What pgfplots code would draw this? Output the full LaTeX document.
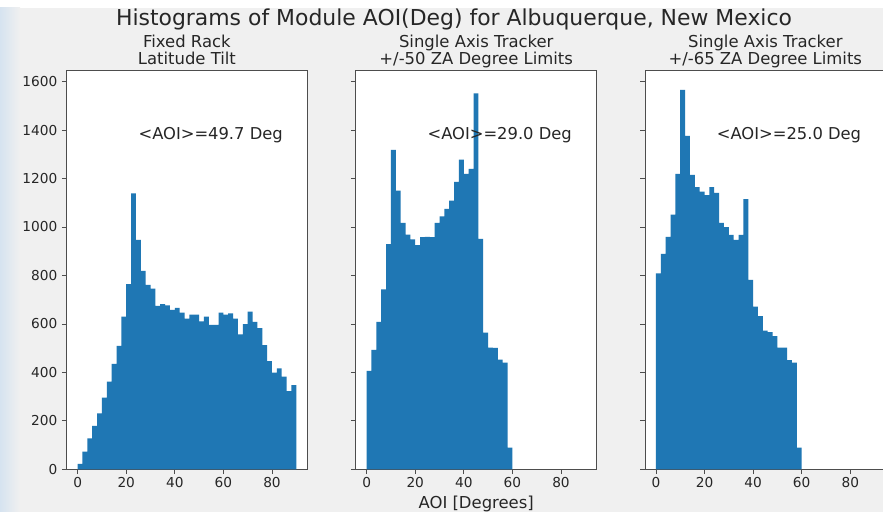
\documentclass[border=0pt]{standalone}
\usepackage{pgfplots}
\pgfplotsset{compat=1.18}
\usepackage{fontspec}
\setmainfont{DejaVu Sans}
\definecolor{c0}{HTML}{1F77B4}
\definecolor{figbg}{HTML}{F0F0F0}
\definecolor{spine}{HTML}{4D4D4D}
\pgfplotsset{
  histax/.style={
    scale only axis, width=240.5bp, height=399.3bp,
    xmin=-4.5, xmax=94.5, ymin=0, ymax=1648,
    xtick={0,20,40,60,80}, ytick={0,200,400,600,800,1000,1200,1400,1600},
    tick align=outside, tick pos=left, major tick length=4.8bp,
    every tick/.style={spine, line width=0.8bp},
    axis line style={spine, line width=0.9bp},
    axis background/.style={fill=white},
    /pgf/number format/assume math mode=true,
    /pgf/number format/1000 sep={},
    ticklabel style={font=\fontsize{13.75}{16}\selectfont, text=black!85},
    xticklabel style={inner sep=0pt, yshift=-3.4bp},
    yticklabel style={inner sep=0pt, xshift=-4.4bp},
    clip=true,
  },
}
\tikzset{annot/.style={font=\fontsize{16.4}{19}\selectfont, text=black!85, anchor=base west, inner sep=0pt}}
\begin{document}
\begin{tikzpicture}
\useasboundingbox (0bp,0bp) rectangle (883bp,512bp);
\fill[figbg] (0bp,0bp) rectangle (883bp,512bp);
\fill[white] (0bp,504bp) rectangle (883bp,512bp);
\shade[left color={rgb,255:red,214;green,227;blue,240}, right color=figbg] (0bp,0bp) rectangle (20bp,504bp);

% Panel 1: Fixed rack, latitude tilt
\begin{axis}[histax, at={(66.7bp,42.7bp)}, anchor=south west]
\addplot[const plot, fill=c0, draw=none] coordinates {
(0,22) (2,73) (4,128) (6,179) (8,231) (10,296) (12,362) (14,435) (16,509) (18,630)
(20,764) (22,1139) (24,947) (26,819) (28,761) (30,746) (32,674) (34,682) (36,677) (38,658)
(40,666) (42,647) (44,622) (46,638) (48,638) (50,611) (52,630) (54,596) (56,596) (58,647)
(60,638) (62,644) (64,622) (66,557) (68,599) (70,651) (72,608) (74,583) (76,513) (78,446)
(80,399) (82,417) (84,383) (86,323) (88,347) (90,347)
} \closedcycle;
\node[annot] at (axis cs:25,1362) {<AOI>=49.7 Deg};
\end{axis}

% Panel 2: Single axis tracker +/-50
\begin{axis}[histax, at={(355.7bp,42.7bp)}, anchor=south west, yticklabels={}]
\addplot[const plot, fill=c0, draw=none] coordinates {
(0,406) (2,493) (4,608) (6,743) (8,929) (10,1318) (12,1150) (14,1017) (16,969) (18,949)
(20,925) (22,958) (24,959) (26,958) (28,1017) (30,1044) (32,1075) (34,1109) (36,1186) (38,1278)
(40,1219) (42,1240) (44,1552) (46,951) (48,564) (50,502) (52,501) (54,453) (56,440) (58,89)
(60,89)
} \closedcycle;
\node[annot] at (axis cs:25,1362) {<AOI>=29.0 Deg};
\end{axis}

% Panel 3: Single axis tracker +/-65
\begin{axis}[histax, at={(645bp,42.7bp)}, anchor=south west, yticklabels={}]
\addplot[const plot, fill=c0, draw=none] coordinates {
(0,809) (2,889) (4,959) (6,1051) (8,1219) (10,1566) (12,1376) (14,1215) (16,1165) (18,1146)
(20,1132) (22,1165) (24,1141) (26,1017) (28,999) (30,967) (32,947) (34,967) (36,1115) (38,782)
(40,671) (42,632) (44,572) (46,566) (48,550) (50,502) (52,502) (54,451) (56,440) (58,89)
(60,89)
} \closedcycle;
\node[annot] at (axis cs:25,1362) {<AOI>=25.0 Deg};
\end{axis}

% Titles
\node[anchor=base, inner sep=0pt, font=\fontsize{22}{26}\selectfont, text=black!85] at (454bp,486bp) {Histograms of Module AOI(Deg) for Albuquerque, New Mexico};
\begin{scope}[every node/.style={anchor=base, inner sep=0pt, font=\fontsize{16.5}{19}\selectfont, text=black!85}]
\node at (186.9bp,464.3bp) {Fixed Rack};
\node at (186.9bp,447bp) {Latitude Tilt};
\node at (476.2bp,464.3bp) {Single Axis Tracker};
\node at (476.2bp,447bp) {+/-50 ZA Degree Limits};
\node at (765.3bp,464.3bp) {Single Axis Tracker};
\node at (765.3bp,447bp) {+/-65 ZA Degree Limits};
\node at (476.2bp,3.7bp) {AOI [Degrees]};
\end{scope}
\end{tikzpicture}
\end{document}
